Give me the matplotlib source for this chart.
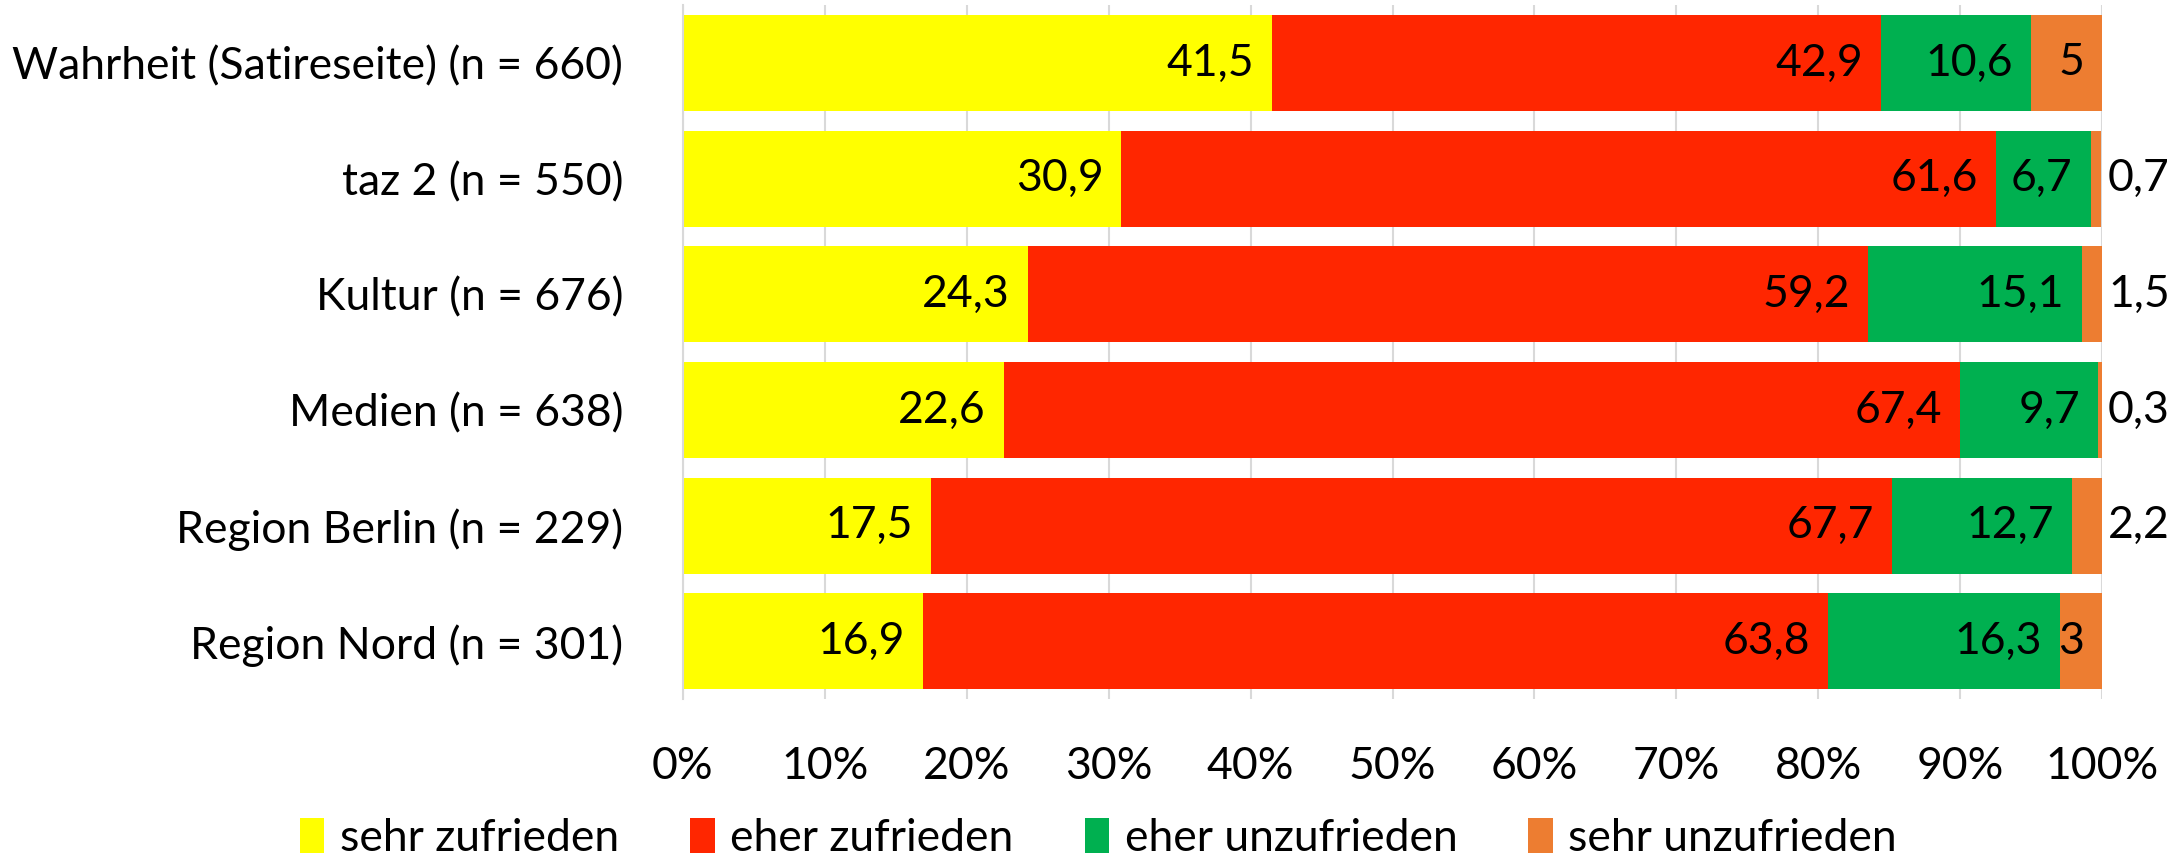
import numpy as np
import matplotlib
matplotlib.use("Agg")
import matplotlib.pyplot as plt
from matplotlib.patches import Patch

plt.rcParams['font.family'] = ['Lato', 'DejaVu Sans']

# =========================
# DATA
# =========================
categories = [
    "Wahrheit (Satireseite) (n = 660)",
    "taz 2 (n = 550)",
    "Kultur (n = 676)",
    "Medien (n = 638)",
    "Region Berlin (n = 229)",
    "Region Nord (n = 301)",
]
series_names = ["sehr zufrieden", "eher zufrieden", "eher unzufrieden", "sehr unzufrieden"]
sehr_zufrieden = [41.5, 30.9, 24.3, 22.6, 17.5, 16.9]
eher_zufrieden = [42.9, 61.6, 59.2, 67.4, 67.7, 63.8]
eher_unzufrieden = [10.6, 6.7, 15.1, 9.7, 12.7, 16.3]
sehr_unzufrieden = [5, 0.7, 1.5, 0.3, 2.2, 3]

colors = ["#FFFF00", "#FF2600", "#00B050", "#ED7D31"]
values = [sehr_zufrieden, eher_zufrieden, eher_unzufrieden, sehr_unzufrieden]

FS = 32

def fmt(v):
    return f"{v:g}".replace(".", ",")

# =========================
# PLOT
# =========================
fig = plt.figure(figsize=(21.84, 8.59), dpi=100)
ax = fig.add_axes([0.3127, 0.186, 0.9625 - 0.3127, 0.808])

y = np.arange(len(categories))
left = np.zeros(len(categories))
for vals, col, name in zip(values, colors, series_names):
    vals = np.array(vals, dtype=float)
    ax.barh(y, vals, left=left, height=0.83, color=col, label=name, zorder=2)
    for yi, (l, v) in enumerate(zip(left, vals)):
        if v >= 2.5:
            ax.annotate(fmt(v), xy=(l + v, yi), xytext=(-18, 0),
                        textcoords='offset pixels', ha='right', va='center',
                        fontsize=FS, zorder=3)
        else:
            # small shares: label sits just right of the 100% line
            ax.annotate(fmt(v), xy=(100, yi), xytext=(6, 0),
                        textcoords='offset pixels', ha='left', va='center',
                        fontsize=FS, zorder=3, annotation_clip=False)
    left = left + vals

ax.set_xlim(0, 100)
ax.set_ylim(len(categories) - 0.5, -0.5)
ax.set_yticks(y)
ax.set_yticklabels(categories, fontsize=FS)
ax.set_xticks(np.arange(0, 101, 10))
ax.set_xticklabels([f"{t}%" for t in range(0, 101, 10)], fontsize=FS)
ax.tick_params(axis='y', length=0, pad=43)
ax.tick_params(axis='x', length=0, pad=34)

ax.grid(axis='x', color='#D9D9D9', linewidth=1.5, zorder=0)
for s in ['top', 'right', 'bottom']:
    ax.spines[s].set_visible(False)
ax.spines['left'].set_color('#D9D9D9')
ax.spines['left'].set_linewidth(1.5)

handles = [Patch(facecolor=c, label=n) for c, n in zip(colors, series_names)]
fig.legend(handles=handles, loc='center', bbox_to_anchor=(0.503, 0.024),
           ncol=4, frameon=False, fontsize=FS, handlelength=0.55,
           handleheight=0.85, handletextpad=0.35, columnspacing=1.6)

plt.savefig("out.png", dpi=100)
plt.close()
